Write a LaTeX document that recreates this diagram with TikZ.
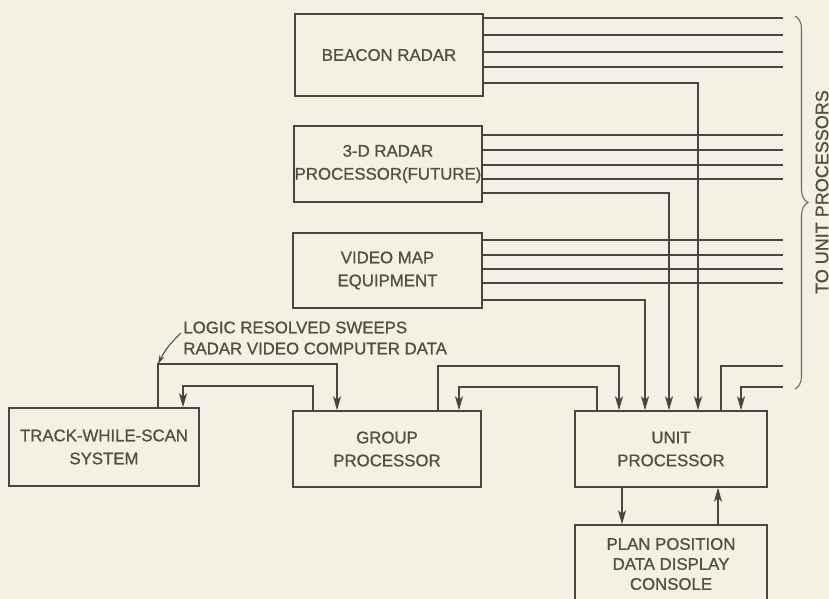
\documentclass[tikz,border=0pt]{standalone}
\usepackage{fontspec}
\setmainfont{Liberation Sans}[FakeBold=0.9]
\usepackage{tikz}
\usetikzlibrary{positioning, arrows.meta, calc, decorations.pathreplacing}

\definecolor{paper}{RGB}{245,240,228}
\definecolor{ink}{RGB}{70,70,68}
\definecolor{letters}{RGB}{78,82,64}

\begin{document}
\begin{tikzpicture}[x=0.5pt, y=-0.5pt,
    block/.style={draw=ink, line width=0.75pt, text=letters, align=center, inner sep=0pt,
      font=\fontsize{8.4}{11.5}\selectfont},
    wire/.style={draw=ink, line width=0.65pt},
    link/.style={wire, -{Stealth[length=7pt, width=4pt, inset=1.8pt]}}]

        \useasboundingbox (0,0) rectangle (829,599);
        \fill[paper] (0,0) rectangle (829,599);

        % Boxes
        \node[block, minimum width=94pt, minimum height=41pt] (beacon) at (389,55) {BEACON RADAR};
        \node[block, minimum width=94pt, minimum height=38pt] (radar3d) at (388,164) {3-D RADAR\\PROCESSOR(FUTURE)};
        \node[block, minimum width=94.5pt, minimum height=37.5pt] (vmap) at (387.5,270.5) {VIDEO MAP\\EQUIPMENT};
        \node[block, minimum width=95pt, minimum height=39pt] (tws) at (104,447) {TRACK-WHILE-SCAN\\SYSTEM};
        \node[block, minimum width=94pt, minimum height=38pt] (group) at (387,449) {GROUP\\PROCESSOR};
        \node[block, minimum width=96pt, minimum height=38pt] (unit) at (671,449) {UNIT\\PROCESSOR};
        \node[block, minimum width=96pt, minimum height=39pt,
          font=\fontsize{8.4}{10}\selectfont] (display) at (671,564) {PLAN POSITION\\DATA DISPLAY\\CONSOLE};

        % Lines out to the other unit processors
        \coordinate (rim) at (783,0);
        \foreach \y in {18,35,52,67} \draw[wire] (beacon.east |- 0,\y) -- (rim |- 0,\y);
        \foreach \y in {135,150,165,179} \draw[wire] (radar3d.east |- 0,\y) -- (rim |- 0,\y);
        \foreach \y in {240,255,269,283} \draw[wire] (vmap.east |- 0,\y) -- (rim |- 0,\y);

        % Feeds into the unit processor
        \draw[link] (beacon.east |- 0,83) -| (unit.north -| 698,0);
        \draw[link] (radar3d.east |- 0,193) -| (unit.north -| 669,0);
        \draw[link] (vmap.east |- 0,300) -| (unit.north -| 645,0);
        \draw[wire] (unit.north -| 721,0) |- (rim |- 0,366);
        \draw[link] (rim |- 0,387) -| (unit.north -| 741,0);

        % Group processor <-> unit processor
        \draw[link] (group.north -| 438,0) |- (619,366) -- (unit.north -| 619,0);
        \draw[link] (unit.north -| 597,0) |- (459,387) -- (group.north -| 459,0);

        % Track-while-scan <-> group processor
        \coordinate (tap) at (158,364);
        \draw[link] (tws.north -| tap) -- (tap) -| (group.north -| 337,0);
        \draw[link] (group.north -| 313,0) |- (183,386) -- (tws.north -| 183,0);

        \node[text=letters, align=left, anchor=west, inner sep=0pt,
          font=\fontsize{8.4}{10.5}\selectfont] (sweeps) at (183,338) {LOGIC RESOLVED SWEEPS\\RADAR VIDEO COMPUTER DATA};
        \draw[ink, line width=0.5pt, -{Stealth[length=4.5pt, width=2.6pt]}] ($(sweeps.west)+(-2,-5)$) to[bend right=10] (tap);

        % Unit processor <-> display console
        \draw[link] (unit.south -| 622,0) -- (display.north -| 622,0);
        \draw[link] (display.north -| 718,0) -- (unit.south -| 718,0);

        % Brace
        \draw[ink!80, line width=0.55pt, decorate, decoration={brace, amplitude=6.5pt}] (795,16) -- (795,389);
        \node[text=letters, rotate=90, inner sep=0pt, font=\fontsize{9}{11}\selectfont] (dest) at (822,192) {TO UNIT PROCESSORS};
      \end{tikzpicture}
\end{document}
